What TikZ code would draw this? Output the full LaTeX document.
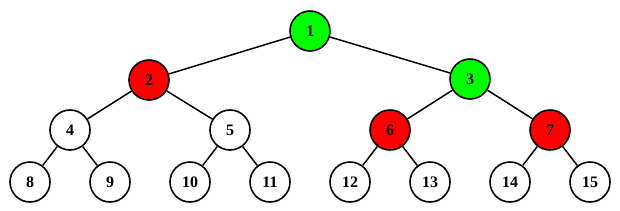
\documentclass[tikz,border=0pt]{standalone}
\usepackage{fontspec}
\setmainfont{Liberation Serif}
\begin{document}
\begin{tikzpicture}[x=1pt,y=-1pt,
  tn/.style={circle,draw=black,line width=1.6pt,minimum size=40pt,inner sep=0pt,fill=white,font=\fontsize{16}{16}\selectfont\bfseries},
  gn/.style={tn,fill=green},
  rn/.style={tn,fill=red},
  edge/.style={line width=1.5pt}]
\useasboundingbox (0,0) rectangle (620,210);
\node[gn] (n1) at (310,31) {1};
\node[rn] (n2) at (149,80) {2};
\node[gn] (n3) at (470,79) {3};
\node[tn] (n4) at (70,130) {4};
\node[tn] (n5) at (230,130) {5};
\node[rn] (n6) at (390,130) {6};
\node[rn] (n7) at (550,130) {7};
\node[tn] (n8) at (30,182) {8};
\node[tn] (n9) at (110,182) {9};
\node[tn] (n10) at (190,182) {10};
\node[tn] (n11) at (270,182) {11};
\node[tn] (n12) at (350,182) {12};
\node[tn] (n13) at (430,182) {13};
\node[tn] (n14) at (510,182) {14};
\node[tn] (n15) at (590,182) {15};
\draw[edge] (n1)--(n2); \draw[edge] (n1)--(n3);
\draw[edge] (n2)--(n4); \draw[edge] (n2)--(n5);
\draw[edge] (n3)--(n6); \draw[edge] (n3)--(n7);
\draw[edge] (n4)--(n8); \draw[edge] (n4)--(n9);
\draw[edge] (n5)--(n10); \draw[edge] (n5)--(n11);
\draw[edge] (n6)--(n12); \draw[edge] (n6)--(n13);
\draw[edge] (n7)--(n14); \draw[edge] (n7)--(n15);
\end{tikzpicture}
\end{document}
